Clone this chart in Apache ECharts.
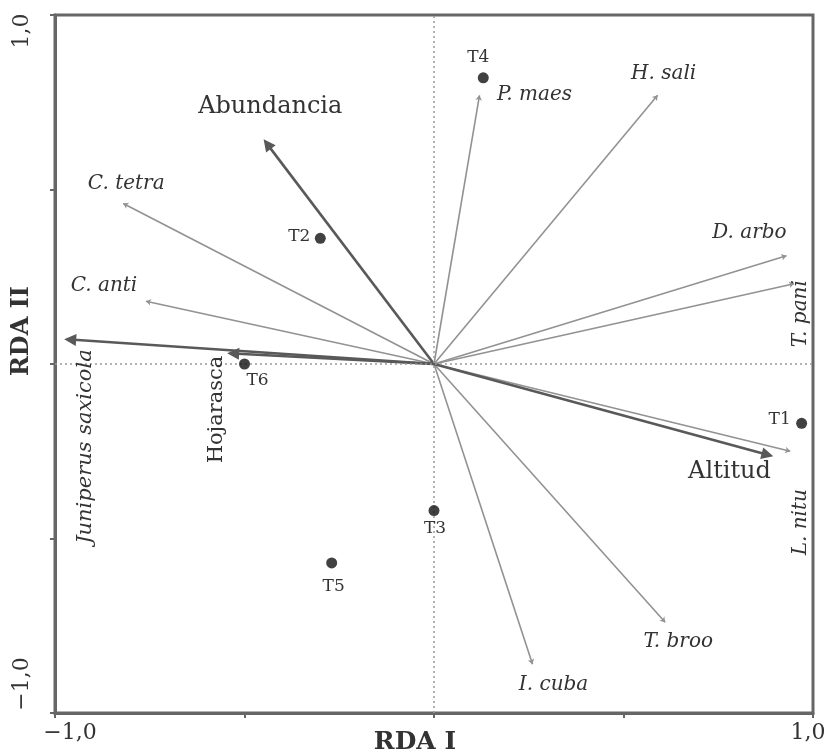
<!DOCTYPE html>
<html><head><meta charset="utf-8">
<script src="https://cdn.jsdelivr.net/npm/echarts@6/dist/echarts.min.js"></script>
<style>html,body{margin:0;padding:0;background:#fff}#c{width:830px;height:756px}</style>
</head><body><div id="c"></div>
<script>
// ---- data ----
const speciesNames = ['C. tetra','C. anti','P. maes','H. sali','D. arbo','T. pani','L. nitu','T. broo','I. cuba'];
const speciesX = [-0.82,-0.76, 0.12, 0.59, 0.93, 0.95, 0.94, 0.61, 0.26];
const speciesY = [ 0.46, 0.18, 0.77, 0.77, 0.31, 0.23,-0.25,-0.74,-0.86];

const envNames = ['Abundancia','Juniperus saxicola','Hojarasca','Altitud'];
const envX = [-0.44,-0.96,-0.53, 0.88];
const envY = [ 0.63, 0.07, 0.03,-0.26];

const siteNames = ['T1','T2','T3','T4','T5','T6'];
const siteX = [ 0.97,-0.30, 0.00, 0.13,-0.27,-0.50];
const siteY = [-0.17, 0.36,-0.42, 0.82,-0.57, 0.00];

const axisMin = -1, axisMax = 1, axisInterval = 0.5;
const xTickLabels = ['\u22121,0','1,0'];
const yTickLabels = ['\u22121,0','1,0'];
const xAxisName = 'RDA I', yAxisName = 'RDA II';

// ---- label layout (pixel offsets from the anchor, rotation, style) ----
const SERIF = '"DejaVu Serif","Liberation Serif",serif';
const labelLayout = {
  'C. tetra':[3,-20,0,'italic',20], 'C. anti':[-42,-15,0,'italic',20], 'P. maes':[55,0,0,'italic',20],
  'H. sali':[6,-21,0,'italic',20], 'D. arbo':[-37,-23,0,'italic',20], 'T. pani':[7,30,90,'italic',20],
  'L. nitu':[11,71,90,'italic',20], 'T. broo':[13,20,0,'italic',20], 'I. cuba':[21,21,0,'italic',20],
  'Abundancia':[3,-37,0,'normal',24], 'Juniperus saxicola':[15,107,90,'italic',21],
  'Hojarasca':[-17,56,90,'normal',21], 'Altitud':[-38,17,0,'normal',24],
  'T1':[-22,-4,0,'normal',17], 'T2':[-21,-2,0,'normal',17], 'T3':[1,18,0,'normal',17],
  'T4':[-5,-20,0,'normal',17], 'T5':[2,24,0,'normal',17], 'T6':[13,17,0,'normal',17]
};

// ---- build ----
const labelItems = [];
speciesNames.forEach((n,i)=>labelItems.push({name:n,x:speciesX[i],y:speciesY[i]}));
envNames.forEach((n,i)=>labelItems.push({name:n,x:envX[i],y:envY[i]}));
siteNames.forEach((n,i)=>labelItems.push({name:n,x:siteX[i],y:siteY[i]}));

const speciesLines = speciesNames.map((n,i)=>({name:n, coords:[[0,0],[speciesX[i],speciesY[i]]]}));
const envLines = envNames.map((n,i)=>({name:n, coords:[[0,0],[envX[i],envY[i]]]}));

const chart = echarts.init(document.getElementById('c'));
const axisCommon = {
  type:'value', min:axisMin, max:axisMax, interval:axisInterval,
  axisLine:{show:true, onZero:false, lineStyle:{color:'#666', width:3}},
  axisTick:{show:true, length:5, lineStyle:{color:'#666', width:2}},
  axisLabel:{show:false}, splitLine:{show:false}
};
chart.setOption({
  animation:false,
  backgroundColor:'#fff',
  grid:{left:55, right:17, top:15, bottom:43, show:true, borderColor:'#666', borderWidth:3},
  xAxis:Object.assign({}, axisCommon),
  yAxis:Object.assign({}, axisCommon),
  series:[
    { type:'scatter', data:[], silent:true,
      markLine:{ silent:true, symbol:'none', label:{show:false},
        lineStyle:{type:[2,3], color:'#999', width:1.5},
        data:[{xAxis:0},{yAxis:0}] } },
    { type:'lines', coordinateSystem:'cartesian2d', silent:true, z:3,
      symbol:['none','arrow'], symbolSize:[0,5],
      lineStyle:{color:'#929292', width:1.6, opacity:1, curveness:0},
      data:speciesLines },
    { type:'lines', coordinateSystem:'cartesian2d', silent:true, z:4,
      symbol:['none','triangle'], symbolSize:[0,12],
      lineStyle:{color:'#595959', width:2.6, opacity:1, curveness:0},
      data:envLines },
    { type:'scatter', silent:true, z:5, symbolSize:11,
      itemStyle:{color:'#111'},
      data:siteX.map((x,i)=>[x,siteY[i]]) },
    { type:'custom', silent:true, z:6, clip:false,
      data:labelItems.map((d,i)=>[d.x,d.y,i]),
      renderItem:function(params, api){
        const p = api.coord([api.value(0), api.value(1)]);
        const it = labelItems[api.value(2)];
        const L = labelLayout[it.name];
        return { type:'text', x:p[0]+L[0], y:p[1]+L[1], rotation:L[2]*Math.PI/180,
          style:{ text:it.name, fill:'#333', align:'center', verticalAlign:'middle',
            font: L[3]+' '+L[4]+'px '+SERIF } };
      } }
  ]
});

// axis end labels and names
const pMin = chart.convertToPixel({gridIndex:0},[axisMin,axisMin]);
const pMax = chart.convertToPixel({gridIndex:0},[axisMax,axisMax]);
const tickFont = '22px '+SERIF;
chart.setOption({ graphic:[
  {type:'text', x:pMin[0]+15, y:pMin[1]+20, style:{text:xTickLabels[0], font:tickFont, fill:'#333', align:'center', verticalAlign:'middle'}},
  {type:'text', x:pMax[0]-5, y:pMin[1]+20, style:{text:xTickLabels[1], font:tickFont, fill:'#333', align:'center', verticalAlign:'middle'}},
  {type:'text', x:pMin[0]-33, y:pMin[1]-29, rotation:Math.PI/2, style:{text:yTickLabels[0], font:tickFont, fill:'#333', align:'center', verticalAlign:'middle'}},
  {type:'text', x:pMin[0]-33, y:pMax[1]+16, rotation:Math.PI/2, style:{text:yTickLabels[1], font:tickFont, fill:'#333', align:'center', verticalAlign:'middle'}},
  {type:'text', x:(pMin[0]+pMax[0])/2-19, y:pMin[1]+29, style:{text:xAxisName, font:'bold 25px '+SERIF, fill:'#333', align:'center', verticalAlign:'middle'}},
  {type:'text', x:pMin[0]-33, y:(pMin[1]+pMax[1])/2-33, rotation:Math.PI/2, style:{text:yAxisName, font:'bold 24px '+SERIF, fill:'#333', align:'center', verticalAlign:'middle'}}
]});
</script></body></html>
